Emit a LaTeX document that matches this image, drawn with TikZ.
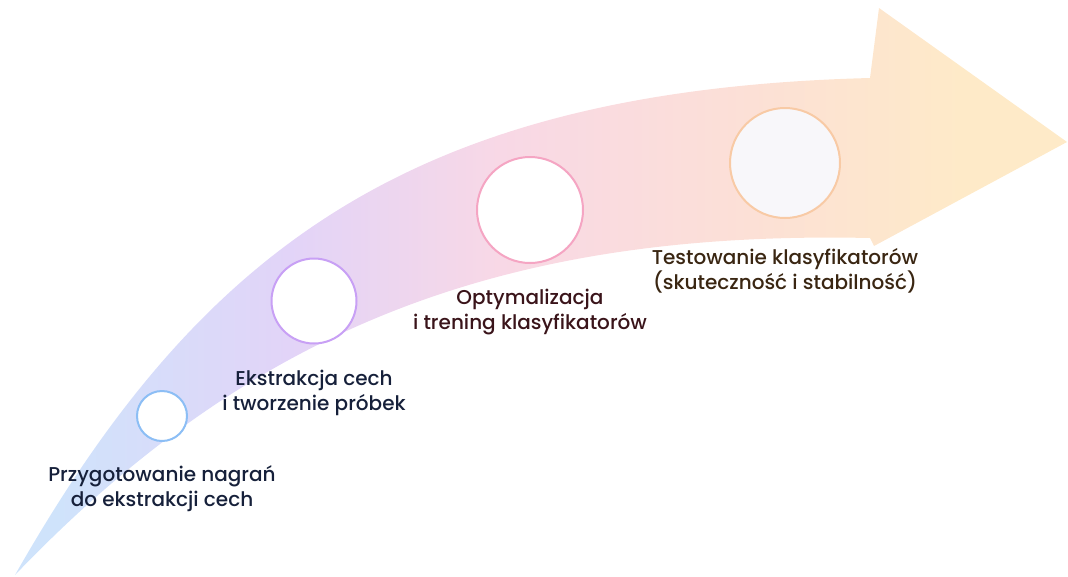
\documentclass[tikz,border=0pt]{standalone}
\usepackage{fontspec}
\setmainfont{Poppins}[UprightFont={* Medium}]
\usetikzlibrary{positioning}
\definecolor{niebieski}{RGB}{207, 227, 251}
\definecolor{lawenda}{RGB}{226, 212, 248}
\definecolor{rozowy}{RGB}{248, 216, 230}
\definecolor{brzoskwinia}{RGB}{252, 224, 214}
\definecolor{zolty}{RGB}{254, 234, 200}
\definecolor{linia1}{RGB}{140, 190, 245}
\definecolor{linia2}{RGB}{200, 160, 245}
\definecolor{linia3}{RGB}{245, 165, 195}
\definecolor{linia4}{RGB}{248, 202, 165}
\definecolor{granat}{RGB}{22, 32, 58}
\definecolor{bordo}{RGB}{58, 20, 26}
\definecolor{braz}{RGB}{58, 38, 18}
\pgfdeclarehorizontalshading{strzalka}{100bp}{color(0bp)=(niebieski); color(27bp)=(niebieski);
  color(38bp)=(lawenda); color(48bp)=(rozowy); color(60bp)=(brzoskwinia);
  color(70bp)=(zolty); color(100bp)=(zolty)}
\tikzset{
  krag/.style={circle, line width=2pt, fill=white, inner sep=0pt},
  opis/.style={align=center, inner sep=0pt, font=\fontsize{20}{25}\selectfont}
}

\begin{document}
\begin{tikzpicture}[x=1pt, y=-1pt]
    \useasboundingbox (0,0) rectangle (1068,576);
    % Strzałka
    \shade[shading=strzalka] (15,575) .. controls (200,250) and (410,90) .. (870,78)
        -- (879,8) -- (1067,142) -- (874,246) -- (870,238)
        .. controls (500,230) and (250,330) .. (15,575) -- cycle;

    % Etapy
    \node[krag, draw=linia1, minimum size=50pt] (k1) at (162,416) {};
    \node[krag, draw=linia2, minimum size=85pt] (k2) at (314,301) {};
    \node[krag, draw=linia3, minimum size=106pt] (k3) at (530,210) {};
    \node[krag, draw=linia4, minimum size=110pt, fill={rgb,255:red,248;green,247;blue,250}] (k4) at (785,163) {};

    % Opisy
    \node[opis, text=granat, below=23pt of k1] (o1) {Przygotowanie nagrań\\do ekstrakcji cech};
    \node[opis, text=granat, below=25pt of k2] (o2) {Ekstrakcja cech\\i tworzenie próbek};
    \node[opis, text=bordo, below=25pt of k3] (o3) {Optymalizacja\\i trening klasyfikatorów};
    \node[opis, text=braz, below=29pt of k4] (o4) {Testowanie klasyfikatorów\\(skuteczność i stabilność)};
\end{tikzpicture}
\end{document}
